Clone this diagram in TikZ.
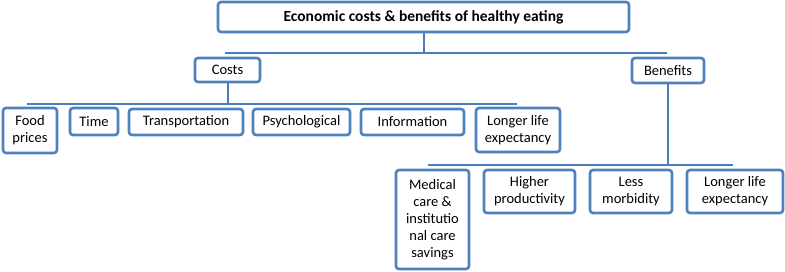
\documentclass[tikz,border=0pt]{standalone}
\usepackage{fontspec}
\setmainfont{Carlito}
\usepackage{xcolor}
\usepackage{tikz}
\usetikzlibrary{positioning}
\definecolor{azul}{HTML}{4F81BD}
\definecolor{azullinea}{HTML}{4A7EBB}

\begin{document}
\begin{tikzpicture}[x=1pt,y=-1pt,
    caja/.style={draw=azul,line width=2.6pt,rounded corners=3pt,align=center,inner sep=0pt,fill=white,font=\fontsize{14.5}{17}\selectfont},
    barra/.style={draw=azullinea,line width=2pt}]
  \useasboundingbox (0,0) rectangle (785,272);
  \node[caja,minimum width=411pt,minimum height=30pt,font=\fontsize{15.5}{17}\selectfont\bfseries] (title) at (423.5,17) {Economic costs \& benefits of healthy eating};
  \node[caja,minimum width=65pt,minimum height=24pt] (costs) at (227.5,70) {Costs};
  \node[caja,minimum width=72pt,minimum height=25pt] (benefits) at (668,70.5) {Benefits};
  % costs row
  \foreach \n/\x/\y/\w/\h/\txt in {food/30/130.5/54/45/{Food\\prices},
                                   time/94/121.5/48/27/{Time},
                                   transport/186/122/114/26/{Transportation},
                                   psych/301.5/122/97/26/{Psychological},
                                   info/412.5/122/103/26/{Information},
                                   lifec/518/130/84/44/{Longer life\\expectancy}}{
    \node[caja,minimum width=\w pt,minimum height=\h pt] (\n) at (\x,\y) {\txt};
  }
  % benefits row
  \foreach \n/\x/\y/\w/\h/\txt in {medical/432.5/219.5/73/99/{Medical\\care \&\\institutio\\nal care\\savings},
                                   productivity/529.5/191.5/91/43/{Higher\\productivity},
                                   morbidity/631/191.5/82/43/{Less\\morbidity},
                                   lifeb/735/191.5/96/43/{Longer life\\expectancy}}{
    \node[caja,minimum width=\w pt,minimum height=\h pt] (\n) at (\x,\y) {\txt};
  }
  \coordinate (topL) at (225,53);
  \coordinate (topR) at (667,53);
  \coordinate (midL) at (27,104);
  \coordinate (midR) at (517,104);
  \coordinate (botL) at (428,165);
  \coordinate (botR) at (733,165);
  \draw[barra] (topL) -- (topR);
  \draw[barra] (title.south) -- (title.south |- topL);
  \draw[barra] (midL) -- (midR);
  \draw[barra] (costs.south) -- (costs.south |- midL);
  \draw[barra] (botL) -- (botR);
  \draw[barra] (benefits.south) -- (benefits.south |- botL);
\end{tikzpicture}
\end{document}
